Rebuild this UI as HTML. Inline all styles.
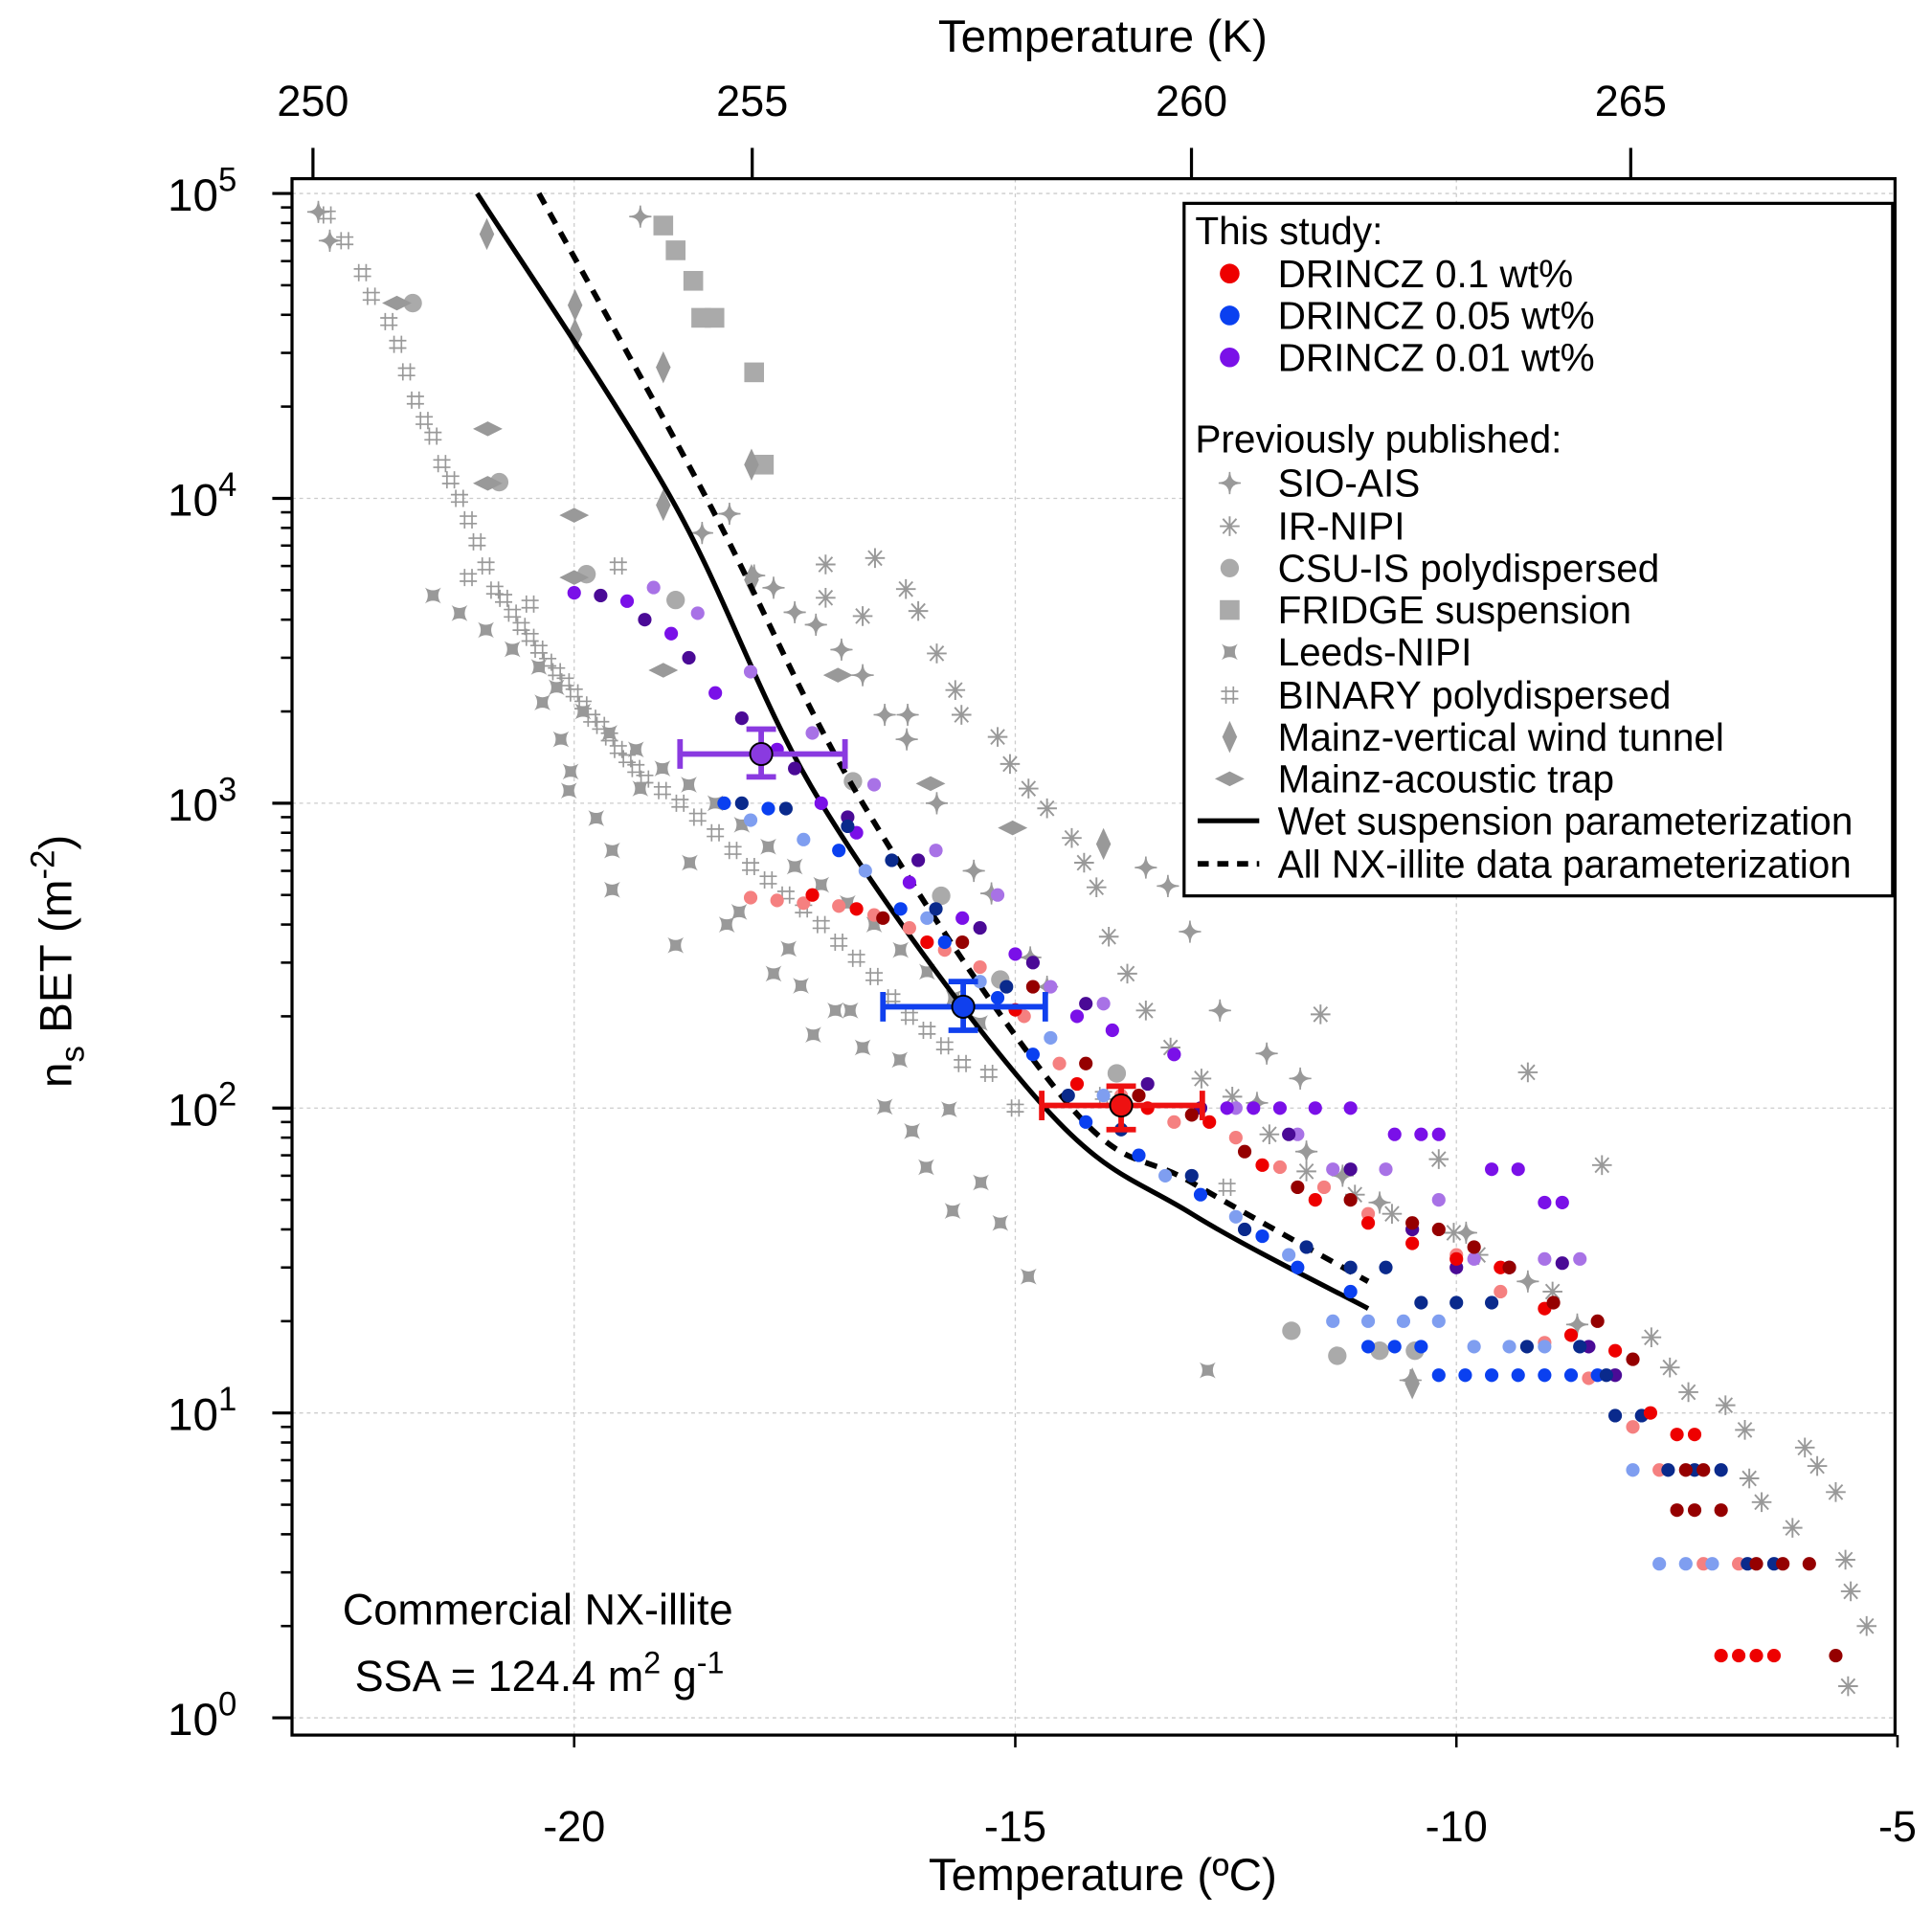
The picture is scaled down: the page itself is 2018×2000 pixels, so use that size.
<!DOCTYPE html>
<html><head><meta charset="utf-8"><style>
html,body{margin:0;padding:0;background:#fff;}
svg{display:block;font-family:"Liberation Sans",Arial,sans-serif;}
</style></head><body>
<svg id="chart" width="2018" height="2000" viewBox="0 0 1568 1554" xmlns="http://www.w3.org/2000/svg">
<g id="grid"></g>
<g id="grey"></g>
<g id="fits"></g>
<g id="color"></g>
<g id="axes"></g>
<g id="legend"></g>
<text x="278" y="1318" font-size="35">Commercial NX-illite</text>
<text x="288" y="1372" font-size="35">SSA = 124.4 m<tspan dy="-14" font-size="25">2</tspan><tspan dy="14"> g</tspan><tspan dy="-14" font-size="25">-1</tspan></text>
</svg>
<script>
// ---- data ----
const xTicksC=[-20,-15,-10,-5];
const xTicksK=[250,255,260,265];
const yDecades=[0,1,2,3,4,5];
const wetFitT=[-21.1,-18.9,-17.2,-14.66,-13.0,-11.0];
const wetFitV=[100000,10000,1000,100,45,22];
const allFitT=[-20.4,-18.5,-16.73,-14.36,-13.0,-11.0];
const allFitV=[100000,10000,1000,100,57,27];
const errT=[-17.88,-15.59,-13.8];
const errV=[1450,215,102];
const errTlo=[-18.8,-16.5,-14.7];
const errThi=[-16.93,-14.66,-12.88];
const errVlo=[1220,180,85];
const errVhi=[1750,260,118];
const errColors=["#8a3ae0","#1040ee","#ee1111"];
const redLight=[[-18.0,490],[-17.7,480],[-17.4,470],[-17.0,460],[-16.6,430],[-16.2,390],[-15.8,330],[-15.4,290],[-14.9,200],[-14.5,140],[-13.8,110],[-13.2,90],[-12.5,80],[-12.0,64],[-11.5,55],[-11.0,45],[-10.5,40],[-10.0,33],[-9.5,25],[-9.0,17],[-8.5,13],[-8.0,9],[-7.7,6.5],[-7.2,3.2],[-6.8,3.2]];
const redMain=[[-17.3,500],[-16.8,450],[-16.0,350],[-15.0,210],[-14.3,120],[-13.5,100],[-12.8,90],[-12.2,65],[-11.6,50],[-11.0,42],[-10.5,36],[-10.0,32],[-9.5,30],[-9.0,22],[-8.7,18],[-8.2,16],[-7.8,10],[-7.5,8.5],[-7.3,8.5],[-7.0,1.6],[-6.8,1.6],[-6.6,1.6],[-6.4,1.6]];
const redDark=[[-16.5,420],[-15.6,350],[-14.8,250],[-14.2,140],[-13.6,110],[-13.0,95],[-12.4,72],[-11.8,55],[-11.2,50],[-10.5,42],[-10.2,40],[-9.8,35],[-9.4,30],[-8.9,23],[-8.4,20],[-8.0,15],[-7.4,6.5],[-7.2,6.5],[-7.5,4.8],[-7.3,4.8],[-7.0,4.8],[-6.6,3.2],[-6.3,3.2],[-6.0,3.2],[-5.7,1.6]];
const blueMain=[[-18.3,1000],[-17.8,960],[-17.0,700],[-16.3,450],[-15.8,350],[-15.2,230],[-14.8,150],[-14.2,90],[-13.6,70],[-12.9,52],[-12.2,38],[-11.8,30],[-11.2,25],[-11.0,16.5],[-10.7,16.5],[-10.4,16.5],[-10.2,13.3],[-9.9,13.3],[-9.6,13.3],[-9.3,13.3],[-9.0,13.3],[-8.7,13.3],[-8.4,13.3]];
const blueDark=[[-18.1,1000],[-17.6,960],[-16.9,840],[-16.4,650],[-15.9,450],[-15.1,250],[-14.4,110],[-13.8,85],[-13.0,60],[-12.4,40],[-11.7,35],[-11.2,30],[-10.8,30],[-10.4,23],[-10.0,23],[-9.6,23],[-9.2,16.5],[-8.6,16.5],[-8.3,13.3],[-8.2,9.8],[-7.9,9.8],[-7.6,6.5],[-7.3,6.5],[-7.0,6.5],[-6.7,3.2],[-6.4,3.2]];
const blueLight=[[-18.0,880],[-17.4,760],[-16.7,600],[-16.0,420],[-15.4,260],[-14.6,170],[-14.0,110],[-13.3,60],[-12.5,44],[-11.9,33],[-11.4,20],[-11.0,20],[-10.6,20],[-10.2,20],[-9.8,16.5],[-9.4,16.5],[-9.0,16.5],[-8.6,16.5],[-8.0,6.5],[-7.7,3.2],[-7.4,3.2],[-7.1,3.2]];
const purpleMain=[[-20.0,4900],[-19.4,4600],[-18.9,3600],[-18.4,2300],[-17.7,1500],[-17.2,1000],[-16.8,800],[-16.2,550],[-15.6,420],[-15.0,320],[-14.3,200],[-13.9,180],[-13.2,150],[-12.6,100],[-12.3,100],[-12.0,100],[-11.6,100],[-11.2,100],[-10.7,82],[-10.4,82],[-10.2,82],[-9.6,63],[-9.3,63],[-9.0,49],[-8.8,49]];
const purpleDark=[[-19.7,4800],[-19.2,4000],[-18.7,3000],[-18.1,1900],[-17.5,1300],[-16.9,900],[-16.1,650],[-15.4,390],[-14.8,300],[-14.2,220],[-13.5,120],[-12.9,100],[-11.9,82],[-11.2,63],[-10.5,40],[-10.0,30],[-9.4,30],[-8.8,31],[-8.5,16.5],[-8.2,13.3]];
const purpleLight=[[-19.1,5100],[-18.6,4200],[-18.0,2700],[-17.3,1700],[-16.6,1150],[-15.9,700],[-15.2,500],[-14.6,250],[-14.0,220],[-13.2,150],[-12.5,100],[-11.8,82],[-11.4,63],[-10.8,63],[-10.2,50],[-9.8,32],[-9.0,32],[-8.6,32]];
const fridge=[[-18.99,78500],[-18.85,65100],[-18.65,51700],[-18.56,39100],[-18.41,39100],[-17.96,25900],[-17.85,12900]];
const csu=[[-21.83,43700],[-20.85,11300],[-19.86,5640],[-18.85,4640],[-16.84,1180],[-15.84,497],[-15.17,264],[-13.85,130],[-11.87,18.6],[-11.35,15.4],[-10.87,16],[-10.47,16]];
const mainzVWT=[[-20.99,73600],[-19.99,43000],[-19.99,34500],[-18.99,26900],[-17.99,12900],[-18.99,9500],[-17.99,5400],[-10.5,12.5],[-14.0,735]];
const mainzAT=[[-22.01,43700],[-20.98,16900],[-20.98,11200],[-20.0,8800],[-20.0,5500],[-18.99,2730],[-17.01,2630],[-15.96,1160],[-15.03,830]];
const sioAis=[[-22.9,87000],[-22.77,70000],[-19.25,84000],[-18.24,8900],[-18.55,7700],[-17.96,5580],[-17.74,5090],[-17.5,4230],[-17.26,3850],[-16.97,3190],[-16.73,2630],[-16.48,1950],[-16.22,1950],[-16.23,1620],[-15.89,1000],[-15.47,600],[-15.27,506],[-14.83,312],[-14.64,250],[-13.52,615],[-13.27,535],[-13.02,379],[-12.68,209],[-12.15,151],[-11.77,125],[-12.26,104],[-11.7,72],[-11.29,60],[-10.87,49],[-10.52,12.8],[-9.89,39],[-9.19,27],[-8.63,19.5]];
const irNipi=[[-17.15,6070],[-17.15,4720],[-16.59,6370],[-16.73,4110],[-16.24,5040],[-16.1,4270],[-15.89,3100],[-15.68,2350],[-15.61,1950],[-15.2,1650],[-15.06,1345],[-14.85,1117],[-14.64,962],[-14.36,769],[-14.22,638],[-14.08,530],[-13.94,365],[-13.73,276],[-13.52,209],[-13.24,158],[-12.89,125],[-12.54,109],[-12.12,82],[-11.54,203],[-11.7,62],[-11.15,52],[-10.73,45],[-10.2,68],[-10.03,39],[-9.75,33],[-9.19,131],[-8.91,25],[-8.35,65],[-7.79,17.7],[-7.58,14.1],[-7.37,11.7],[-6.95,10.6],[-6.73,8.8],[-6.68,6.1],[-6.54,5.1],[-6.19,4.2],[-6.05,7.7],[-5.91,6.7],[-5.7,5.5],[-5.59,3.3],[-5.53,2.6],[-5.35,2.0],[-5.56,1.27]];
const leeds=[[-20.04,1270],[-20.06,1100],[-19.75,893],[-19.57,700],[-19.57,520],[-18.85,342],[-18.27,400],[-17.74,276],[-17.43,252],[-17.04,209],[-16.73,158],[-16.48,101],[-16.17,84],[-16.01,64],[-15.75,99],[-15.71,46],[-15.39,57],[-15.17,42],[-14.85,28],[-12.82,13.8],[-20.36,2140],[-20.15,1620],[-19.25,1117],[-18.69,638],[-18.13,440],[-17.57,333],[-17.29,174],[-16.87,209],[-16.31,144]];
const leedsBand=[[-21.6,4800],[-21.3,4200],[-21.0,3700],[-20.7,3200],[-20.4,2800],[-20.2,2400],[-19.9,2000],[-19.6,1700],[-19.3,1500],[-19.0,1300],[-18.7,1150],[-18.4,1000],[-18.1,850],[-17.8,720],[-17.5,620],[-17.2,540],[-16.9,470],[-16.6,400],[-16.3,330],[-16.0,280],[-15.7,230],[-15.4,190]];
const binary=[[-22.8,85000],[-22.6,70000],[-22.4,55000],[-22.3,46000],[-22.1,38000],[-22.0,32000],[-21.9,26000],[-21.8,21000],[-21.7,18000],[-21.6,16000],[-21.5,13000],[-21.4,11500],[-21.3,10000],[-21.2,8500],[-21.1,7200],[-21.0,6000],[-21.2,5500],[-20.9,5000],[-20.8,4700],[-20.7,4200],[-20.6,3800],[-20.5,3500],[-20.4,3200],[-20.3,2900],[-20.2,2700],[-20.1,2500],[-20.0,2300],[-19.9,2100],[-19.8,1900],[-19.7,1800],[-19.6,1650],[-19.5,1500],[-19.4,1400],[-19.3,1300],[-19.2,1200],[-19.0,1100],[-18.8,1000],[-18.6,900],[-18.4,800],[-18.2,700],[-18.0,620],[-17.8,560],[-17.6,500],[-17.4,450],[-17.2,400],[-17.0,350],[-16.8,310],[-16.6,270],[-16.4,230],[-16.2,200],[-16.0,180],[-15.8,160],[-15.6,140],[-19.5,6000],[-20.5,4500],[-15.3,130],[-14.0,110],[-12.6,55],[-15.0,100]];

// ---- scales ----
const PL=237,PR=1538,PT=145,PB=1408;
function xS(t){return 466+(t+20)*71.6;}
function xK(k){return 254+(k-250)*71.3;}
function yS(v){return 1394-247.4*Math.log10(v);}
const NS="http://www.w3.org/2000/svg";
function mk(tag,attrs,parent){const e=document.createElementNS(NS,tag);for(const k in attrs)e.setAttribute(k,attrs[k]);parent.appendChild(e);return e;}
const G=id=>document.getElementById(id);

// grid
const grid=G('grid');
for(const d of yDecades){const l=mk('line',{x1:PL,x2:PR,y1:yS(Math.pow(10,d)),y2:yS(Math.pow(10,d)),stroke:'#ccc','stroke-width':1,'stroke-dasharray':'3,3'},grid);

}
for(const t of xTicksC.slice(0,3)){const l=mk('line',{x1:xS(t),x2:xS(t),y1:PT,y2:PB,stroke:'#ccc','stroke-width':1,'stroke-dasharray':'3,3'},grid);

}

// marker shapes
function star4(x,y,r){return `M${x},${y-r} Q${x},${y} ${x+r},${y} Q${x},${y} ${x},${y+r} Q${x},${y} ${x-r},${y} Q${x},${y} ${x},${y-r}Z`;}
function drawMarker(shape,x,y,parent,fill){
 let e;
 if(shape==='dot'){e=mk('circle',{cx:x,cy:y,r:5.5,fill:fill},parent);}
 else if(shape==='circle'){e=mk('circle',{cx:x,cy:y,r:7.5,fill:'#aaa'},parent);}
 else if(shape==='square'){e=mk('rect',{x:x-8,y:y-8,width:16,height:16,fill:'#aaa'},parent);}
 else if(shape==='vdiamond'){e=mk('path',{d:`M${x},${y-13}L${x+6},${y}L${x},${y+13}L${x-6},${y}Z`,fill:'#999'},parent);}
 else if(shape==='hdiamond'){e=mk('path',{d:`M${x-12},${y}L${x},${y-6}L${x+12},${y}L${x},${y+6}Z`,fill:'#999'},parent);}
 else if(shape==='star4'){e=mk('path',{d:star4(x,y,9),fill:'#999',stroke:'#999','stroke-width':1.2},parent);}
 else if(shape==='leeds'){e=mk('path',{d:`M${x-6.5},${y-6.5}Q${x},${y-2} ${x+6.5},${y-6.5}Q${x+2},${y} ${x+6.5},${y+6.5}Q${x},${y+2} ${x-6.5},${y+6.5}Q${x-2},${y} ${x-6.5},${y-6.5}Z`,fill:'#999'},parent);}
 else if(shape==='aster'){e=mk('path',{d:`M${x-8},${y}H${x+8}M${x-5.5},${y-6}L${x+5.5},${y+6}M${x-5.5},${y+6}L${x+5.5},${y-6}M${x},${y-8}V${y+8}`,stroke:'#999','stroke-width':1.5,fill:'none'},parent);}
 else if(shape==='hash'){e=mk('path',{d:`M${x-3},${y-7}V${y+7}M${x+3},${y-7}V${y+7}M${x-7},${y-3}H${x+7}M${x-7},${y+3}H${x+7}`,stroke:'#999','stroke-width':1.3,fill:'none'},parent);}
 return e;
}
function series(arr,shape,fill,name,parent){
 const g=mk('g',{},parent);
 
 
 for(const p of arr){const e=drawMarker(shape,xS(p[0]),yS(p[1]),g,fill);
  
  }
}
const grey=G('grey');
series(binary,'hash',null,'binary-series',grey);
series(leedsBand,'leeds',null,'leeds-band-series',grey);
series(leeds,'leeds',null,'leeds-nipi-series',grey);
series(irNipi,'aster',null,'ir-nipi-series',grey);
series(sioAis,'star4',null,'sio-ais-series',grey);
series(csu,'circle',null,'csu-is-series',grey);
series(fridge,'square',null,'fridge-series',grey);
series(mainzVWT,'vdiamond',null,'mainz-vwt-series',grey);
series(mainzAT,'hdiamond',null,'mainz-at-series',grey);

// fits
const fits=G('fits');
function smooth(T,V){const pts=T.map((t,i)=>[xS(t),yS(V[i])]);let d=`M${pts[0][0]},${pts[0][1]}`;
 for(let i=0;i<pts.length-1;i++){const p0=pts[Math.max(0,i-1)],p1=pts[i],p2=pts[i+1],p3=pts[Math.min(pts.length-1,i+2)];
 d+=`C${p1[0]+(p2[0]-p0[0])/6},${p1[1]+(p2[1]-p0[1])/6} ${p2[0]-(p3[0]-p1[0])/6},${p2[1]-(p3[1]-p1[1])/6} ${p2[0]},${p2[1]}`;}return d;}
const wl=mk('path',{d:smooth(wetFitT,wetFitV),stroke:'#000','stroke-width':4,fill:'none'},fits);


const al=mk('path',{d:smooth(allFitT,allFitV),stroke:'#000','stroke-width':4.5,fill:'none','stroke-dasharray':'10,8'},fits);



// colored
const col=G('color');
series(redLight,'dot','#f58080','drincz-01-light',col);
series(blueLight,'dot','#7f9ef0','drincz-005-light',col);
series(purpleLight,'dot','#a872e6','drincz-001-light',col);
series(purpleMain,'dot','#7a10e8','drincz-001',col);
series(purpleDark,'dot','#4a0a96','drincz-001-dark',col);
series(blueMain,'dot','#0a40f0','drincz-005',col);
series(blueDark,'dot','#0a2a8c','drincz-005-dark',col);
series(redMain,'dot','#ee0000','drincz-01',col);
series(redDark,'dot','#950000','drincz-01-dark',col);
// error bars
for(let i=0;i<errT.length;i++){
 const g=mk('g',{stroke:errColors[i],'stroke-width':4.5,fill:'none'},col);
 
 
 const cx=xS(errT[i]),cy=yS(errV[i]),x1=xS(errTlo[i]),x2=xS(errThi[i]),y1=yS(errVhi[i]),y2=yS(errVlo[i]);
 mk('path',{d:`M${x1},${cy}H${x2}M${x1},${cy-12}V${cy+12}M${x2},${cy-12}V${cy+12}M${cx},${y1}V${y2}M${cx-12},${y1}H${cx+12}M${cx-12},${y2}H${cx+12}`},g);
 const c=mk('circle',{cx:cx,cy:cy,r:9,fill:errColors[i],stroke:'#000','stroke-width':1.5},col);
 
 
}

// axes
const ax=G('axes');
mk('rect',{x:PL,y:PT,width:PR-PL,height:PB-PT,fill:'none',stroke:'#000','stroke-width':2.5},ax);
for(const t of xTicksC){const x=xS(t);mk('line',{x1:x,x2:x,y1:PB,y2:PB+10,stroke:'#000','stroke-width':2},ax);
 const tx=mk('text',{x:x,y:1494,'font-size':35,'text-anchor':'middle'},ax);tx.textContent=t;
 
 }
for(const k of xTicksK){const x=xK(k);mk('line',{x1:x,x2:x,y1:PT,y2:PT-25,stroke:'#000','stroke-width':2.5},ax);
 const tx=mk('text',{x:x,y:94,'font-size':35,'text-anchor':'middle'},ax);tx.textContent=k;
 
 }
for(const d of yDecades){const y=yS(Math.pow(10,d));mk('line',{x1:PL,x2:PL-16,y1:y,y2:y,stroke:'#000','stroke-width':2.5},ax);
 const tx=mk('text',{x:136,y:y+14,'font-size':37},ax);tx.innerHTML=`10<tspan dy="-16" font-size="27">${d}</tspan>`;
 
 
 if(d<5)for(let m=2;m<10;m++){const yy=yS(m*Math.pow(10,d));mk('line',{x1:PL,x2:PL-9,y1:yy,y2:yy,stroke:'#000','stroke-width':2},ax);}}
const xt=mk('text',{x:895,y:1534,'font-size':37,'text-anchor':'middle'},ax);xt.textContent='Temperature (ºC)';


const kt=mk('text',{x:895,y:42,'font-size':37,'text-anchor':'middle'},ax);kt.textContent='Temperature (K)';


const yt=mk('text',{x:0,y:0,'font-size':37,'text-anchor':'middle',transform:'translate(58,780) rotate(-90)'},ax);
yt.innerHTML='n<tspan dy="10" font-size="27">s</tspan><tspan dy="-10"> BET (m</tspan><tspan dy="-14" font-size="27">-2</tspan><tspan dy="14">)</tspan>';



// legend
const lg=G('legend');
mk('rect',{x:961,y:165,width:575,height:562,fill:'#fff',stroke:'#000','stroke-width':2.5},lg);
function ltext(s,x,y){const t=mk('text',{x:x,y:y,'font-size':31.5},lg);t.textContent=s;
 
 }
ltext('This study:',970,198);
const cEntries=[['DRINCZ 0.1 wt%','#ee0000',222],['DRINCZ 0.05 wt%','#0a40f0',256],['DRINCZ 0.01 wt%','#7a10e8',290]];
for(const e of cEntries){mk('circle',{cx:998,cy:e[2],r:8,fill:e[1]},lg);ltext(e[0],1037,e[2]+11);}
ltext('Previously published:',970,367);
const gEntries=[['SIO-AIS','star4',392],['IR-NIPI','aster',427],['CSU-IS polydispersed','circle',461],['FRIDGE suspension','square',495],['Leeds-NIPI','leeds',529],['BINARY polydispersed','hash',564],['Mainz-vertical wind tunnel','vdiamond',598],['Mainz-acoustic trap','hdiamond',632]];
for(const e of gEntries){drawMarker(e[1],998,e[2],lg,null);ltext(e[0],1037,e[2]+11);}
mk('line',{x1:972,x2:1022,y1:666,y2:666,stroke:'#000','stroke-width':4},lg);ltext('Wet suspension parameterization',1037,677);
mk('line',{x1:972,x2:1022,y1:701,y2:701,stroke:'#000','stroke-width':4.5,'stroke-dasharray':'9,7'},lg);ltext('All NX-illite data parameterization',1037,712);
</script>
</body></html>
